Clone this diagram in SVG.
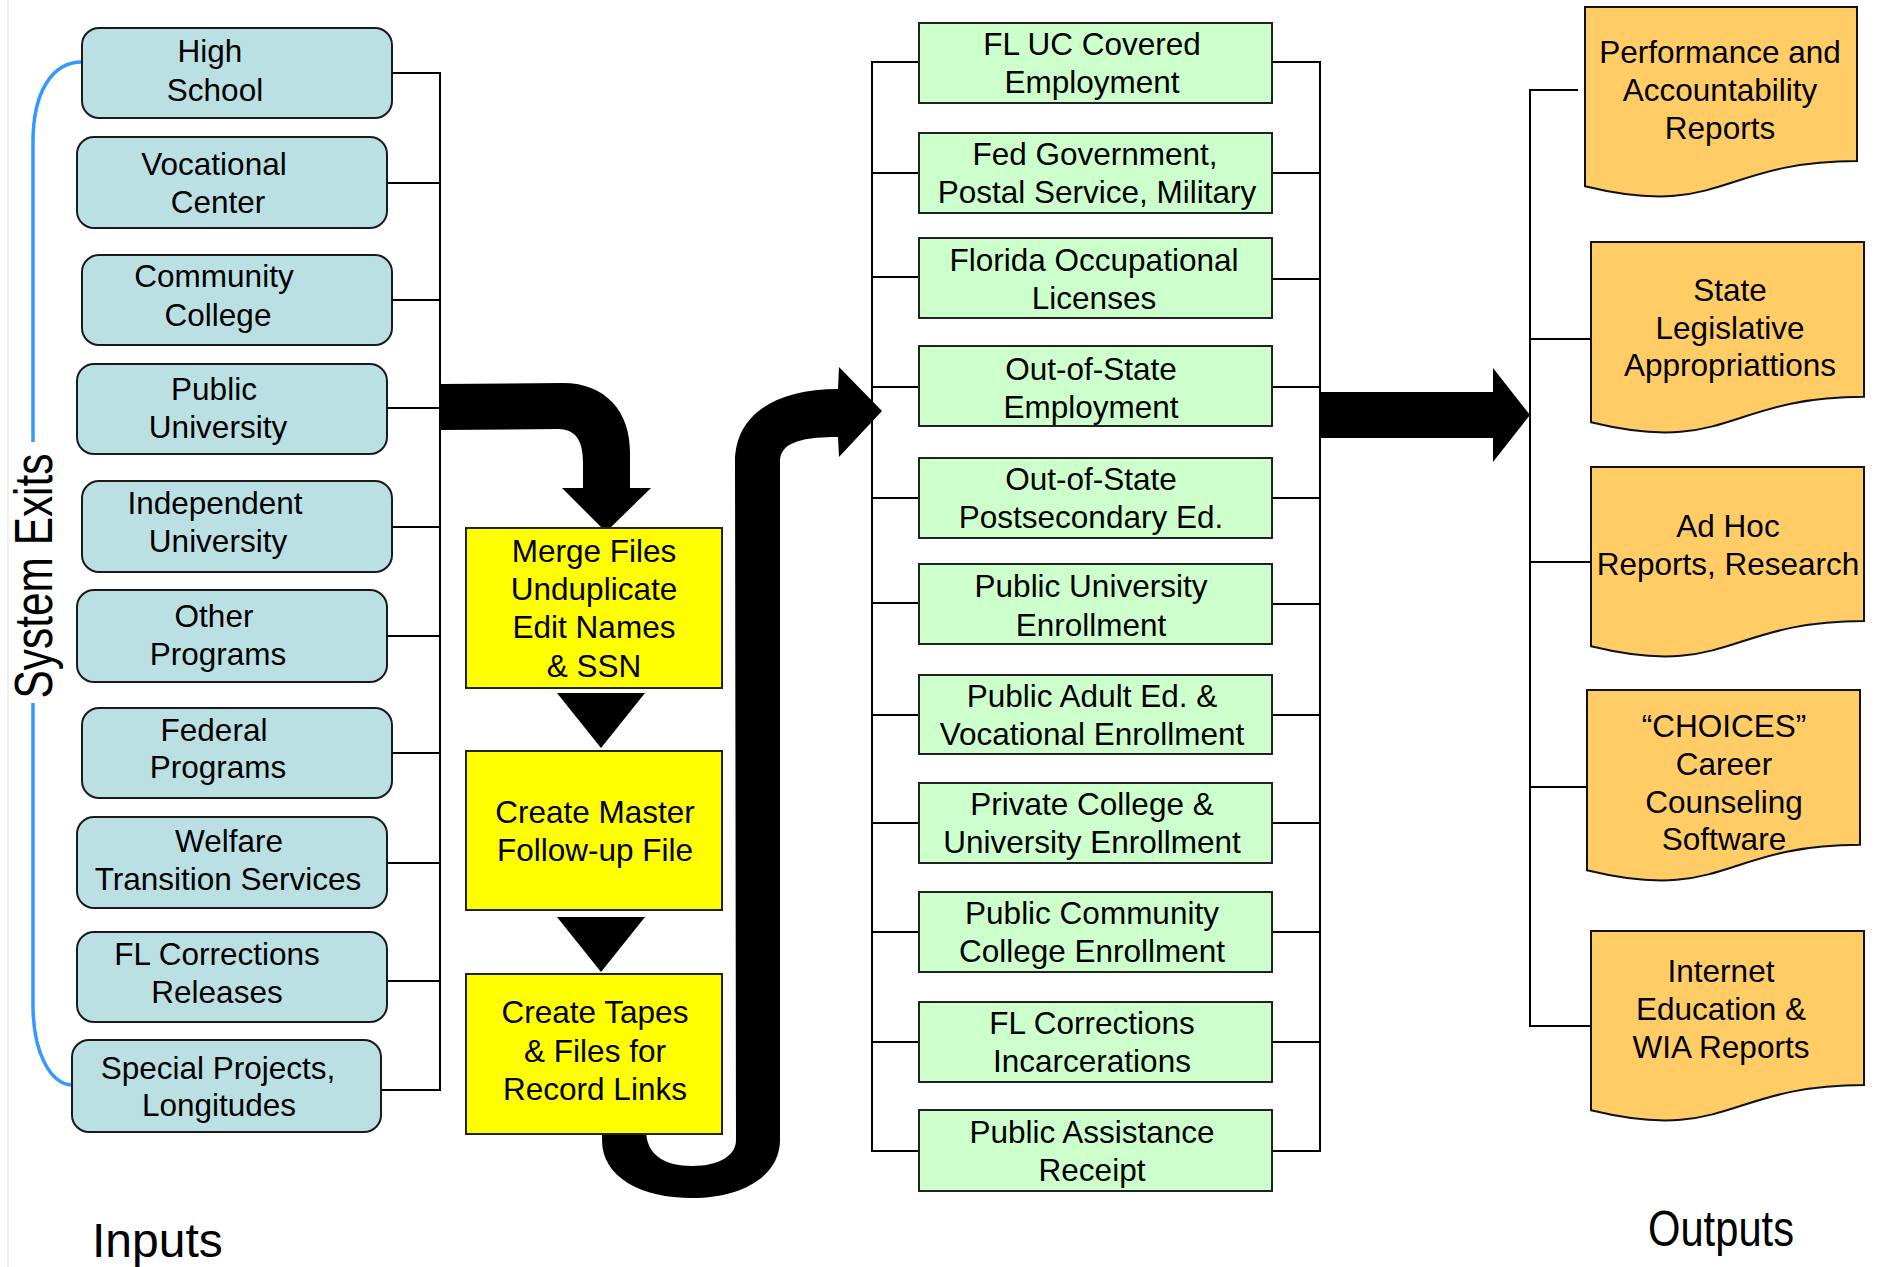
<svg xmlns="http://www.w3.org/2000/svg" width="1877" height="1267" viewBox="0 0 1877 1267">
<style>
.t{font-family:"Liberation Sans",Arial,sans-serif;font-size:31.5px;fill:#000;text-anchor:middle}
.in{fill:#bbe0e3;stroke:#1a1a1a;stroke-width:2}
.gr{fill:#ccffcc;stroke:#222;stroke-width:2}
.yl{fill:#ffff00;stroke:#222;stroke-width:2}
.doc{fill:#ffcc66;stroke:#111;stroke-width:2}
.ln{fill:none;stroke:#000;stroke-width:2}
.big{fill:#000;stroke:none}
</style>
<rect x="0" y="0" width="1877" height="1267" fill="#fff"/>
<line x1="8" y1="0" x2="8" y2="1267" stroke="#ececec" stroke-width="1.5"/>

<g id="connectors">
  <path class="ln" d="M392,73 H440 V1090 H381 M387,183 H440 M392,300 H440 M387,408 H440 M392,527 H440 M387,636 H440 M392,753 H440 M387,863 H440 M387,981 H440"/>
  <path class="ln" d="M919,62 H872 V1151 H919 M872,173 H919 M872,277 H919 M872,387 H919 M872,498 H919 M872,603 H919 M872,715 H919 M872,823 H919 M872,932 H919 M872,1042 H919"/>
  <path class="ln" d="M1272,62 H1320 V1151 H1272 M1272,173 H1320 M1272,279 H1320 M1272,387 H1320 M1272,498 H1320 M1272,604 H1320 M1272,715 H1320 M1272,823 H1320 M1272,932 H1320 M1272,1042 H1320"/>
  <path class="ln" d="M1578,90 H1530 V1026 H1591 M1530,339 H1591 M1530,562 H1591 M1530,787 H1587"/>
  <path fill="none" stroke="#3399ff" stroke-width="3.5" d="M82,62 C52,62 33,92 33,142 V442 M33,703 V1005 C33,1052 50,1084 72,1085"/>
  <path class="big" d="M440,384 L563,383 C606,383 630,412 630,452 L630,488 L651,488 L606,532 L562,488 L583,488 L583,462 C583,440 575,429 558,429 L440,430 Z"/>
  <path class="big" d="M602,1130 L602,1140 C602,1178 642,1198 692,1198 C742,1198 780,1176 780,1140 L780,462 C780,445 795,437 838,437 L839,457 L882,411 L839,367 L838,389 C775,389 735,415 735,462 L736,1140 C736,1155 720,1166 692,1166 C665,1166 646,1155 646,1130 Z"/>
  <path class="big" d="M1319,392 H1493 V368 L1530,415 L1493,462 V438 H1319 Z"/>
  <polygon class="big" points="557,693 645,693 601,748"/>
  <polygon class="big" points="557,917 645,917 601,972"/>
</g>

<g id="in1"><rect class="in" x="82" y="28" width="310" height="90" rx="17"/><text class="t" x="210" y="62">High</text><text class="t" x="215" y="101">School</text></g>
<g id="in2"><rect class="in" x="77" y="137" width="310" height="91" rx="17"/><text class="t" x="214" y="175">Vocational</text><text class="t" x="218" y="213">Center</text></g>
<g id="in3"><rect class="in" x="82" y="255" width="310" height="90" rx="17"/><text class="t" x="214" y="287">Community</text><text class="t" x="218" y="326">College</text></g>
<g id="in4"><rect class="in" x="77" y="364" width="310" height="90" rx="17"/><text class="t" x="214" y="400">Public</text><text class="t" x="218" y="438">University</text></g>
<g id="in5"><rect class="in" x="82" y="481" width="310" height="91" rx="17"/><text class="t" x="215" y="514">Independent</text><text class="t" x="218" y="552">University</text></g>
<g id="in6"><rect class="in" x="77" y="590" width="310" height="92" rx="17"/><text class="t" x="214" y="627">Other</text><text class="t" x="218" y="665">Programs</text></g>
<g id="in7"><rect class="in" x="82" y="708" width="310" height="90" rx="17"/><text class="t" x="214" y="741">Federal</text><text class="t" x="218" y="778">Programs</text></g>
<g id="in8"><rect class="in" x="77" y="817" width="310" height="91" rx="17"/><text class="t" x="229" y="852">Welfare</text><text class="t" x="228" y="890">Transition Services</text></g>
<g id="in9"><rect class="in" x="77" y="932" width="310" height="90" rx="17"/><text class="t" x="217" y="965">FL Corrections</text><text class="t" x="217" y="1003">Releases</text></g>
<g id="in10"><rect class="in" x="72" y="1040" width="309" height="92" rx="17"/><text class="t" x="218" y="1079">Special Projects,</text><text class="t" x="219" y="1116">Longitudes</text></g>

<g id="p1"><rect class="yl" x="466" y="528" width="256" height="160"/><text class="t" x="594" y="562">Merge Files</text><text class="t" x="594" y="600">Unduplicate</text><text class="t" x="594" y="638">Edit Names</text><text class="t" x="594" y="677">&amp; SSN</text></g>
<g id="p2"><rect class="yl" x="466" y="751" width="256" height="159"/><text class="t" x="595" y="823">Create Master</text><text class="t" x="595" y="861">Follow-up File</text></g>
<g id="p3"><rect class="yl" x="466" y="974" width="256" height="160"/><text class="t" x="595" y="1023">Create Tapes</text><text class="t" x="595" y="1062">&amp; Files for</text><text class="t" x="595" y="1100">Record Links</text></g>

<g id="g1"><rect class="gr" x="919" y="23" width="353" height="80"/><text class="t" x="1092" y="55">FL UC Covered</text><text class="t" x="1092" y="93">Employment</text></g>
<g id="g2"><rect class="gr" x="919" y="133" width="353" height="80"/><text class="t" x="1095" y="165">Fed Government,</text><text class="t" x="1097" y="203">Postal Service, Military</text></g>
<g id="g3"><rect class="gr" x="919" y="238" width="353" height="80"/><text class="t" x="1094" y="271">Florida Occupational</text><text class="t" x="1094" y="309">Licenses</text></g>
<g id="g4"><rect class="gr" x="919" y="346" width="353" height="80"/><text class="t" x="1091" y="380">Out-of-State</text><text class="t" x="1091" y="418">Employment</text></g>
<g id="g5"><rect class="gr" x="919" y="458" width="353" height="80"/><text class="t" x="1091" y="490">Out-of-State</text><text class="t" x="1091" y="528">Postsecondary Ed.</text></g>
<g id="g6"><rect class="gr" x="919" y="564" width="353" height="80"/><text class="t" x="1091" y="597">Public University</text><text class="t" x="1091" y="636">Enrollment</text></g>
<g id="g7"><rect class="gr" x="919" y="675" width="353" height="79"/><text class="t" x="1092" y="707">Public Adult Ed. &amp;</text><text class="t" x="1092" y="745">Vocational Enrollment</text></g>
<g id="g8"><rect class="gr" x="919" y="783" width="353" height="80"/><text class="t" x="1092" y="815">Private College &amp;</text><text class="t" x="1092" y="853">University Enrollment</text></g>
<g id="g9"><rect class="gr" x="919" y="892" width="353" height="80"/><text class="t" x="1092" y="924">Public Community</text><text class="t" x="1092" y="962">College Enrollment</text></g>
<g id="g10"><rect class="gr" x="919" y="1002" width="353" height="80"/><text class="t" x="1092" y="1034">FL Corrections</text><text class="t" x="1092" y="1072">Incarcerations</text></g>
<g id="g11"><rect class="gr" x="919" y="1110" width="353" height="81"/><text class="t" x="1092" y="1143">Public Assistance</text><text class="t" x="1092" y="1181">Receipt</text></g>

<g id="o1"><path class="doc" d="M1585,7 H1857 V161 C1721,161 1721,219.6 1585,186.3 Z"/><text class="t" x="1720" y="63">Performance and</text><text class="t" x="1720" y="101">Accountability</text><text class="t" x="1720" y="139">Reports</text></g>
<g id="o2"><path class="doc" d="M1591,242 H1864 V396.8 C1727.5,396.8 1727.5,455.7 1591,422.3 Z"/><text class="t" x="1730" y="301">State</text><text class="t" x="1730" y="339">Legislative</text><text class="t" x="1730" y="376">Appropriattions</text></g>
<g id="o3"><path class="doc" d="M1591,467 H1864 V621 C1727.5,621 1727.5,679.6 1591,646.3 Z"/><text class="t" x="1728" y="537">Ad Hoc</text><text class="t" x="1728" y="575">Reports, Research</text></g>
<g id="o4"><path class="doc" d="M1587,690 H1860 V844.8 C1723.5,844.8 1723.5,903.7 1587,870.3 Z"/><text class="t" x="1724" y="737">“CHOICES”</text><text class="t" x="1724" y="775">Career</text><text class="t" x="1724" y="813">Counseling</text><text class="t" x="1724" y="850">Software</text></g>
<g id="o5"><path class="doc" d="M1591,931 H1864 V1085 C1727.5,1085 1727.5,1143.6 1591,1110.3 Z"/><text class="t" x="1721" y="982">Internet</text><text class="t" x="1721" y="1020">Education &amp;</text><text class="t" x="1721" y="1058">WIA Reports</text></g>

<g id="labels">
  <text x="0" y="0" transform="translate(52,576) rotate(-90)" style="font-family:'Liberation Sans',Arial,sans-serif;font-size:53px;text-anchor:middle" textLength="245" lengthAdjust="spacingAndGlyphs">System Exits</text>
  <text x="92" y="1257" style="font-family:'Liberation Sans',Arial,sans-serif;font-size:48px">Inputs</text>
  <text x="1648" y="1246" style="font-family:'Liberation Sans',Arial,sans-serif;font-size:50px" textLength="146" lengthAdjust="spacingAndGlyphs">Outputs</text>
</g>
</svg>
